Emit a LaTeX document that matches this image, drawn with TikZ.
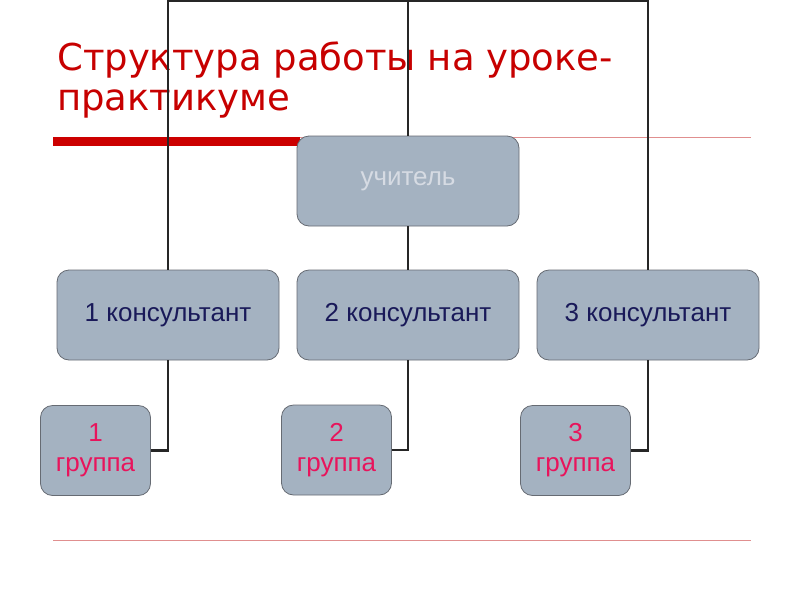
\documentclass[tikz,border=0pt]{standalone}
\usepackage{fontspec}
\setmainfont{Liberation Sans}
\newfontfamily\titlefont{DejaVu Sans}
\definecolor{slidetitle}{rgb}{0.78,0.0,0.0}
\definecolor{slidebar}{rgb}{0.8,0.0,0.0}
\definecolor{slideline}{rgb}{0.88,0.56,0.56}
\definecolor{boxfill}{rgb}{0.643,0.698,0.757}
\definecolor{boxedge}{rgb}{0.4,0.42,0.45}
\definecolor{teachtext}{rgb}{0.84,0.86,0.89}
\definecolor{konstext}{rgb}{0.1,0.1,0.35}
\definecolor{grouptext}{rgb}{0.91,0.08,0.36}

\tikzset{
  orgbox/.style={draw=boxedge,fill=boxfill,rounded corners=12pt,line width=0.8pt,
    minimum width=222pt,minimum height=90pt,inner sep=0pt,font=\fontsize{26}{30}\selectfont},
  groupbox/.style={orgbox,minimum width=110pt,align=center,text=grouptext},
  link/.style={line width=2.2pt,draw=black!85}
}

\begin{document}
\begin{tikzpicture}[x=1pt,y=-1pt]
\useasboundingbox (0,0) rectangle (800,600);
\fill[white] (0,0) rectangle (800,600);
\node[anchor=north west,text=slidetitle,font=\titlefont\fontsize{37}{40}\selectfont,
  align=left,inner sep=0pt] (title) at (57,42) {Структура работы на уроке-\\практикуме};
\fill[slidebar] (53,137) rectangle (300,146);
\draw[slideline,line width=0.8pt] (300,137) -- (751,137);
\draw[slideline,line width=1pt] (53,540) -- (751,540);

\node[orgbox,text=teachtext] (teacher) at (408,181) {учитель};
\node[orgbox,text=konstext] (kons1) at (168,315) {1 консультант};
\node[orgbox,text=konstext] (kons2) at (408,315) {2 консультант};
\node[orgbox,text=konstext] (kons3) at (648,315) {3 консультант};
\node[groupbox] (grp1) at (95.5,450.5) {1\\группа};
\node[groupbox] (grp2) at (336.5,450) {2\\группа};
\node[groupbox] (grp3) at (575.5,450.5) {3\\группа};

\coordinate (hub) at (408,1);
\draw[link] (teacher.north) -- (hub);
\draw[link] (kons1.north) |- (hub) -| (kons3.north);
\draw[link] (teacher.south) -- (kons2.north);
\draw[link] (kons1.south) |- (grp1.east);
\draw[link] (kons2.south) |- (grp2.east);
\draw[link] (kons3.south) |- (grp3.east);
\end{tikzpicture}
\end{document}
